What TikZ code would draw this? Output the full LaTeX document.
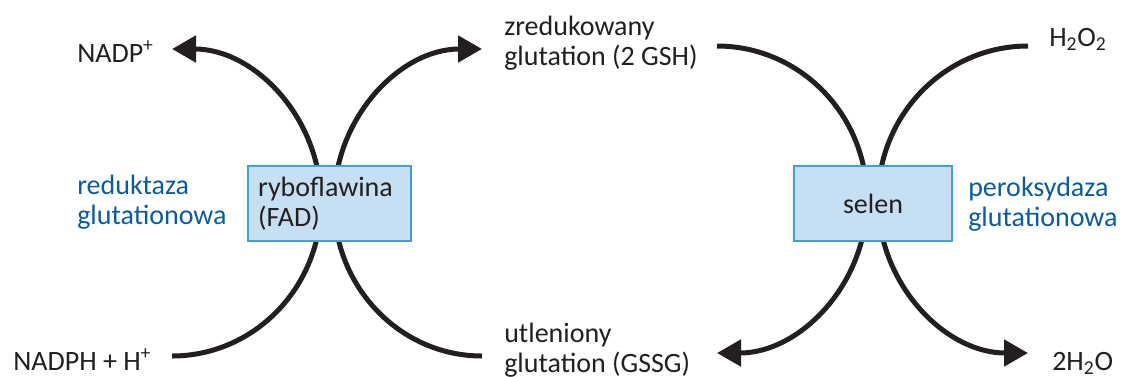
\documentclass[tikz,border=0pt]{standalone}
\usepackage{fontspec}
\setmainfont{Carlito}
\usetikzlibrary{arrows.meta}
\definecolor{enzblue}{HTML}{0A5BA5}
\definecolor{boxfill}{HTML}{C6DFF3}
\definecolor{boxline}{HTML}{3FA0DA}
\definecolor{ink}{HTML}{231F20}

\begin{document}
\begin{tikzpicture}[x=0.75pt, y=-0.75pt, font=\fontsize{21}{22.5}\selectfont,
                    txt/.style={inner sep=0pt, anchor=base west, align=left, text=ink},
                    enz/.style={txt, text=enzblue},
                    cofactor/.style={draw=boxline, line width=1.5pt, fill=boxfill, minimum height=56pt,
                                     inner xsep=7.5pt, inner ysep=0pt, align=left, text=ink},
                    cyc/.style={line width=3.75pt, draw=ink, -{Triangle[length=18pt,width=19.5pt]}}]
    \useasboundingbox (0,0) rectangle (1124,376);

    % substrates and products (base = last line)
    \node[txt] (nadp) at (77,62) {NADP\textsuperscript{+}};
    \node[txt] (nadph) at (13,370) {NADPH + H\textsuperscript{+}};
    \node[txt] (gsh) at (504,65) {zredukowany\\glutation (2 GSH)};
    \node[txt] (gssg) at (504,372) {utleniony\\glutation (GSSG)};
    \node[txt] (h2o2) at (1049,46) {H\textsubscript{2}O\textsubscript{2}};
    \node[txt] (water) at (1052,370) {2H\textsubscript{2}O};

    % enzymes
    \node[enz] (reduktaza) at (77,224) {reduktaza\\glutationowa};
    \node[enz] (peroksydaza) at (968,226) {peroksydaza\\glutationowa};

    % arc ends
    \coordinate (nadphE) at (172,356);
    \coordinate (gssgL) at (482,356);
    \coordinate (gshR) at (717,46);
    \coordinate (h2o2E) at (1028,46);

    \draw[cyc] (nadphE) arc[start angle=90, end angle=-90, x radius=149, y radius=153.5];
    \draw[cyc] (gssgL) arc[start angle=90, end angle=270, x radius=148, y radius=153.5];
    \draw[cyc] (gshR) arc[start angle=-90, end angle=90, x radius=150, y radius=153.5];
    \draw[cyc] (h2o2E) arc[start angle=270, end angle=90, x radius=150, y radius=153.5];

    % cofactors
    \node[cofactor, minimum width=122pt, text width=107pt] (fad) at (329.5,203.5) {ryboflawina\\(FAD)};
    \node[cofactor, minimum width=118.5pt, align=center] (selen) at (873,203.5) {selen};
\end{tikzpicture}
\end{document}
